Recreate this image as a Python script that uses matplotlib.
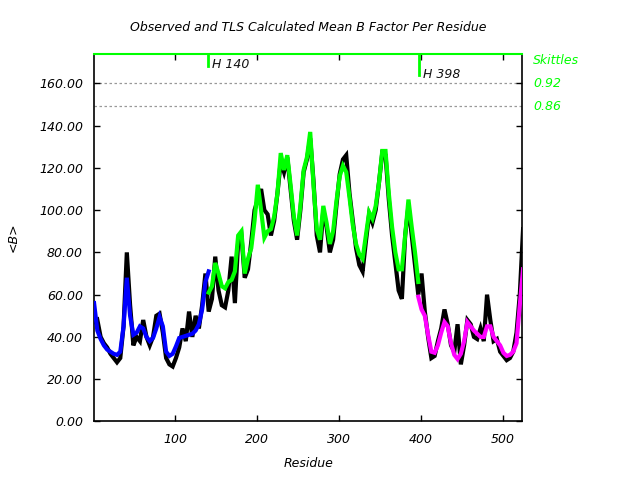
import numpy as np
import matplotlib
matplotlib.use("Agg")
import matplotlib.pyplot as plt

plt.rcParams['font.family'] = ['DejaVu Sans']
plt.rcParams['font.style'] = 'italic'

# Observed mean B per residue (black)
obs_res = list(range(1, 526, 4))
obs_b = [47, 48, 40, 37, 35, 32, 30, 28, 30, 45, 80, 55, 36, 40, 38, 48, 40, 36, 40, 50,
         51, 42, 30, 27, 26, 30, 35, 44, 38, 52, 40, 50, 44, 55, 70, 52, 58, 78, 62, 55,
         54, 62, 78, 56, 85, 88, 68, 72, 85, 100, 105, 110, 100, 98, 88, 95, 108, 123, 118, 125,
         110, 95, 86, 100, 118, 124, 134, 114, 88, 80, 100, 92, 80, 86, 102, 117, 124, 126, 108, 95,
         82, 74, 71, 85, 98, 94, 100, 113, 127, 126, 105, 88, 75, 62, 58, 88, 102, 88, 74, 60,
         70, 52, 40, 30, 31, 38, 44, 53, 46, 36, 33, 46, 27, 36, 48, 46, 40, 39, 44, 38,
         60, 48, 38, 39, 33, 31, 29, 30, 33, 42, 60, 91]

# TLS calculated mean B, per TLS segment
seg1_res = list(range(1, 142, 4))
seg1_b = [56, 43, 39, 36, 34, 33, 32, 31.5, 33, 45, 68, 50, 41, 42, 45, 44, 40, 38, 39.5, 44,
          49.5, 45, 33, 31, 32, 35.5, 39.5, 40, 40.5, 41, 41.5, 43, 46, 53, 66, 71]
seg2_res = list(range(141, 398, 4))
seg2_b = [61, 64, 75, 70, 64, 63, 66, 67, 71, 88, 90, 70, 77, 82, 95, 112, 100, 87, 90, 91,
          97, 108, 127, 119, 126, 112, 97, 88, 102, 119, 125, 137, 112, 91, 86, 102, 94, 84, 90, 104,
          116, 121, 118, 106, 93, 84, 79, 77, 88, 99, 96, 102, 113, 128, 128, 108, 92, 80, 72, 72,
          88, 105, 92, 80, 66]
seg3_res = list(range(397, 526, 4))
seg3_b = [59, 53, 50, 41, 33, 32.5, 36, 42, 47, 45, 37, 31.5, 29.5, 32, 38, 47, 45, 43, 41.5, 40,
          40, 45, 45, 40, 38, 36, 32.5, 31, 31.5, 33, 37, 55, 72]

seg_colors = ['#0000ff', '#00ff00', '#ff00ff']
hinges = [140, 398]
hinge_labels = ['H 140', 'H 398']
hinge_bottoms = [168.3, 163.8]
skittle_levels = [160.0, 149.2]
skittle_labels = ['0.92', '0.86']

fig = plt.figure(figsize=(6.4, 4.8), dpi=100)
ax = fig.add_axes([0.147, 0.122, 0.669, 0.766])

ax.plot(obs_res, obs_b, color='black', lw=3.0, solid_joinstyle='miter', zorder=2)
for r, b, c in zip([seg1_res, seg2_res, seg3_res], [seg1_b, seg2_b, seg3_b], seg_colors):
    ax.plot(r, b, color=c, lw=3.0, solid_joinstyle='miter', zorder=3)

ax.set_xlim(1, 524)
ax.set_ylim(0, 174)

for lvl in skittle_levels:
    ax.axhline(lvl, color='#999999', lw=0.9, ls=(0, (2, 2)), zorder=1)

for h, lab, bot in zip(hinges, hinge_labels, hinge_bottoms):
    ax.plot([h, h], [174, bot], color='#00ff00', lw=2, zorder=4, clip_on=False)
    ax.text(h + 5, bot + 0.5, lab, fontsize=9, style='italic', va='center', ha='left', color='#111111')

ax.spines['top'].set_color('#00ff00')
ax.spines['top'].set_linewidth(1.5)
for s in ['left', 'right', 'bottom']:
    ax.spines[s].set_linewidth(1.2)

ax.set_xticks([100, 200, 300, 400, 500])
ax.set_yticks([0, 20, 40, 60, 80, 100, 120, 140, 160])
ax.set_yticklabels(['%.2f' % v for v in [0, 20, 40, 60, 80, 100, 120, 140, 160]])
ax.tick_params(direction='in', length=4, width=1, top=True, right=True, labelsize=9, pad=8)
for t in ax.get_xticklabels() + ax.get_yticklabels():
    t.set_fontstyle('italic')

tr = ax.get_yaxis_transform()
ax.text(1.025, 170.6, 'Skittles', transform=tr, color='#00ff00',
        fontsize=9, style='italic', va='center', ha='left')
for lvl, lab in zip(skittle_levels, skittle_labels):
    ax.text(1.025, lvl, lab, transform=tr, color='#00ff00', fontsize=9, style='italic',
            va='center', ha='left')

ax.set_xlabel('Residue', fontsize=9, style='italic', labelpad=8)
ax.set_ylabel('<B>', fontsize=9, style='italic', labelpad=14)
fig.text(0.481, 0.943, 'Observed and TLS Calculated Mean B Factor Per Residue', fontsize=9,
         style='italic', ha='center', va='center')

fig.savefig('out.png', dpi=100)
